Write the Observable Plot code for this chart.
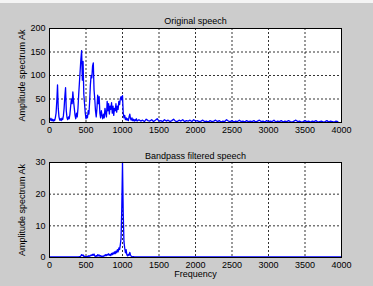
<!DOCTYPE html>
<html>
<head>
<meta charset="utf-8">
<script src="https://cdn.jsdelivr.net/npm/d3@7"></script>
<script src="https://cdn.jsdelivr.net/npm/@observablehq/plot@0.6"></script>
<style>
  html, body { margin: 0; padding: 0; }
  #fig { position: relative; width: 373px; height: 286px; background: #cccccc; border-top: 3px solid #f4f4f4; box-sizing: border-box; overflow: hidden; font-family: "Liberation Sans", Arial, sans-serif; }
  #fig svg { position: absolute; left: 0; }
</style>
</head>
<body>
<div id="fig"></div>
<script>
// ---- Data ----
const xTicks = [0, 500, 1000, 1500, 2000, 2500, 3000, 3500, 4000];
const topYTicks = [0, 50, 100, 150, 200];
const botYTicks = [0, 10, 20, 30];

// Original speech spectrum: 0..1200 Hz every 10 Hz
const origLowStep = 10;
const origLow = [8,5,9,4,7,3,6,4,10,20,45,80,30,12,5,8,4,9,6,14,
  30,55,74,25,10,6,12,8,18,35,50,40,65,45,30,15,8,20,12,30,
  60,85,110,135,153,90,130,60,40,20,8,15,10,25,18,45,80,100,95,120,
  127,70,50,25,12,30,58,40,55,20,10,25,15,8,18,10,30,20,12,45,
  25,40,18,35,28,42,20,35,15,30,25,40,22,35,28,45,38,50,55,48,
  57,20,10,15,6,10,5,8,4,12,18,8,5,10,4,7,3,6,4,8,3];
// Original speech spectrum: 1225..4000 Hz every 25 Hz
const origHighStart = 1225, origHighStep = 25;
const origHigh = [6,3,5,2,7,4,3,6,2,5,8,3,4,2,6,3,5,2,4,7,3,2,5,3,6,2,4,3,5,2,6,3,
  4,2,3,5,2,3,1,4,2,3,5,2,4,1,3,2,6,3,2,4,1,3,2,5,2,3,1,4,2,3,2,4,1,3,5,2,3,1,
  4,2,3,2,5,1,3,2,4,1,3,2,4,2,1,3,5,2,3,1,2,4,2,3,1,3,2,4,1,2,3,1,2,4,1,3,2,1,3,2];

// Bandpass filtered spectrum
const bandA = [0.2,0.2,0.2,0.2,0.2,0.2,0.2,0.2,0.2]; // 0..400 every 50 Hz
const bandBStart = 410, bandBStep = 10;               // 410..1200 every 10 Hz
const bandB = [0.3,0.2,0.5,0.9,0.6,0.8,0.3,0.4,0.2,0.3,0.2,0.4,0.3,0.6,0.4,0.5,0.8,0.6,1.0,0.7,
  1.1,0.5,0.3,0.6,0.4,0.9,0.5,0.8,0.4,0.6,0.3,0.5,0.2,0.4,0.7,0.5,0.9,0.6,1.0,0.8,
  1.2,0.7,1.0,0.6,1.3,0.9,1.5,1.1,1.8,1.2,2.0,1.5,2.5,1.8,3.0,2.5,4.0,6.0,15.5,30,
  14,5,3,1.5,2.5,0.8,0.5,1.0,0.7,1.6,0.8,0.4,0.3,0.2,0.3,0.2,0.2,0.2,0.2,0.2];
const bandCStart = 1250, bandCStep = 250;             // 1250..4000 every 250 Hz
const bandC = [0.2,0.2,0.2,0.2,0.2,0.2,0.2,0.2,0.2,0.2,0.2,0.2];

// ---- Build tables ----
const origData = [
  ...origLow.map((a, i) => ({f: i * origLowStep, a})),
  ...origHigh.map((a, i) => ({f: origHighStart + i * origHighStep, a}))
];
const bandData = [
  ...bandA.map((a, i) => ({f: i * 50, a})),
  ...bandB.map((a, i) => ({f: bandBStart + i * bandBStep, a})),
  ...bandC.map((a, i) => ({f: bandCStart + i * bandCStep, a}))
];

const font = "Liberation Sans, Arial, sans-serif";

function panel({data, yDomain, yTicks, title, height, marginTop, marginBottom, xlabel, titleDy}) {
  const gridX = xTicks.slice(1, -1);
  const gridY = yTicks.slice(1, -1);
  const marks = [
    Plot.frame({fill: "white", stroke: null}),
    Plot.ruleX(gridX, {stroke: "#000", strokeDasharray: "2,2", strokeWidth: 1, strokeOpacity: 0.8}),
    Plot.ruleY(gridY, {stroke: "#000", strokeDasharray: "2,2", strokeWidth: 1, strokeOpacity: 0.8}),
    Plot.line(data, {x: "f", y: "a", stroke: "#0000ff", strokeWidth: 1.3}),
    Plot.frame({stroke: "#000", strokeWidth: 1}),
    Plot.text([title], {frameAnchor: "top", dy: titleDy, fontSize: 9, fill: "#000", textAnchor: "middle"}),
    Plot.text(["Amplitude spectrum Ak"], {frameAnchor: "left", dx: -27, rotate: -90, fontSize: 9, fill: "#000", textAnchor: "middle"})
  ];
  if (xlabel) marks.push(Plot.text([xlabel], {frameAnchor: "bottom", dy: 19, fontSize: 9, fill: "#000", textAnchor: "middle"}));
  return Plot.plot({
    width: 373,
    height,
    marginLeft: 49,
    marginRight: 32,
    marginTop,
    marginBottom,
    style: {background: "transparent", fontFamily: font, fontSize: "9px", color: "#000", overflow: "visible"},
    x: {domain: [0, 4000], ticks: xTicks, tickSize: 0, tickPadding: 4, label: null, tickFormat: d3.format("d")},
    y: {domain: yDomain, ticks: yTicks, tickSize: 0, tickPadding: 4, label: null, tickFormat: d3.format("d")},
    marks
  });
}

const fig = document.getElementById("fig");
const top1 = panel({data: origData, yDomain: [0, 200], yTicks: topYTicks, title: "Original speech",
  height: 137, marginTop: 25, marginBottom: 18, titleDy: -11});
top1.style.top = "0px";
fig.appendChild(top1);
const bot = panel({data: bandData, yDomain: [0, 30], yTicks: botYTicks, title: "Bandpass filtered speech",
  height: 143, marginTop: 19, marginBottom: 29, xlabel: "Frequency", titleDy: -10});
bot.style.top = "140px";
fig.appendChild(bot);
</script>
</body>
</html>
